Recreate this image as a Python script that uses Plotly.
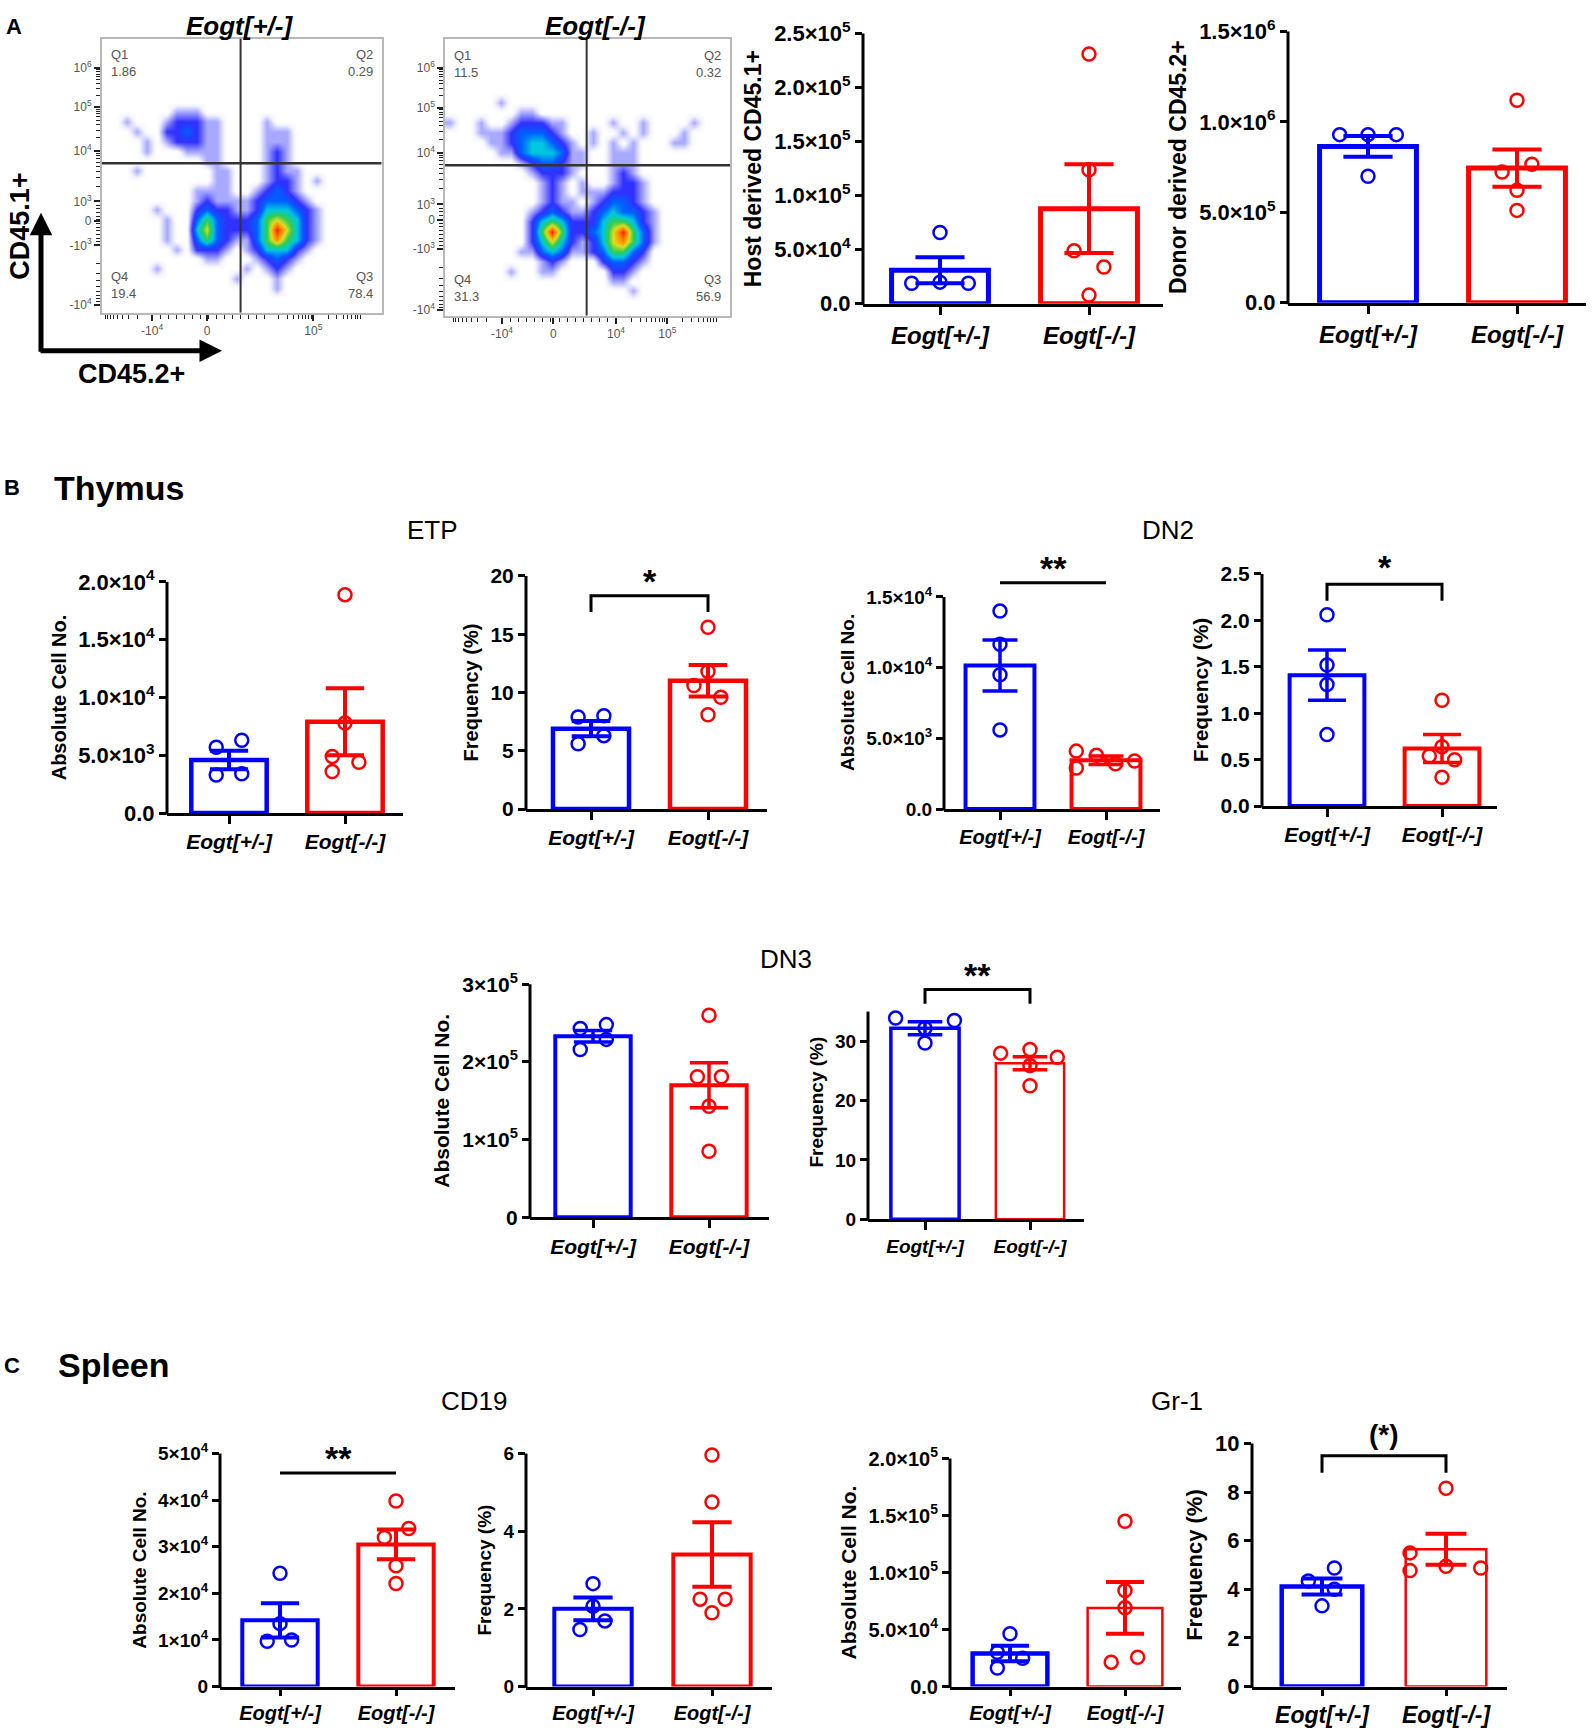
import numpy as np
import plotly.graph_objects as go

W, H = 1594, 1732
BLUE, RED = "#0000ff", "#ff0000"
FONT = "Liberation Sans, Arial, Helvetica, sans-serif"

groups = ["Eogt[+/-]", "Eogt[-/-]"]

# ---------------- A: flow plots (coarse density, rows top -> bottom, 0-8)
flow_het_density = [
    "0000000000000000000000000000",
    "0000000000000000000000000000",
    "0000000000000000000000000000",
    "0000000000000000000000000000",
    "0000000000000000000000000000",
    "0000000000000000000000000000",
    "0000000000000000000000000000",
    "0000000111000000000000000000",
    "0010001222110000100000000000",
    "0001002232110000111000000000",
    "0000101222110000111000000000",
    "0000100011110000121000000000",
    "0000000000110000121000000000",
    "0001000000011000121100000000",
    "0000000000011000122101000000",
    "0000000001111001232100000000",
    "0000000001211112333210000000",
    "0000010002322112444321000000",
    "0000001003532223565421000000",
    "0000001004632223586421000000",
    "0000001003532113575421000000",
    "0000000102221012444210000000",
    "0000000000110001232100000000",
    "0000010000000010121000000000",
    "0000000000000100010000000000",
    "0000000000000000010000000000",
    "0000000000000000000000000000",
    "0000000000000000000000000000",
]
flow_ko_density = [
    "0000000000000000000000000000",
    "0000000000000000000000000000",
    "0000000000000000000000000000",
    "0000000000000000000000000000",
    "0000000000000000000000000000",
    "0000000000000000000000000000",
    "0000010000000000000000000000",
    "0000000110000000000000000000",
    "1001001222110000100100001000",
    "0001112333210010010100010000",
    "0000112344321010101000110000",
    "0000011344431100111000000000",
    "0000000123321100111000000000",
    "0000000012221000121000000000",
    "0000000001210100122100000000",
    "0000000001210111222100000000",
    "0000000001211012332100000000",
    "0000000012321123433210000000",
    "0000000024542224554210000000",
    "0000000025852234685310000000",
    "0000000024642124675310000000",
    "0000000113431123553200000000",
    "0000000001210002332100000000",
    "0000001001100000221000000000",
    "0000000000000000110000000000",
    "0000000000000000001000000000",
    "0000000000000000000000000000",
    "0000000000000000000000000000",
]
quad_names = ["Q1", "Q2", "Q3", "Q4"]
quad_het = ["1.86", "0.29", "78.4", "19.4"]
quad_ko = ["11.5", "0.32", "56.9", "31.3"]
flow_yticktext = ["-10<sup>4</sup>", "-10<sup>3</sup>", "0", "10<sup>3</sup>",
                  "10<sup>4</sup>", "10<sup>5</sup>", "10<sup>6</sup>"]
flow_xticktext_het = ["-10<sup>4</sup>", "0", "", "10<sup>5</sup>"]
flow_xticktext_ko = ["-10<sup>4</sup>", "0", "10<sup>4</sup>", "10<sup>5</sup>"]

# ---------------- bar panels: individual mice, mean, SEM
host_het = [6.6e4, 1.9e4, 2.0e4, 1.9e4]
host_ko = [2.31e5, 1.24e5, 4.9e4, 3.4e4, 8.0e3]
host_mean = [3.1e4, 8.8e4]
host_sem = [1.2e4, 4.1e4]

donor_het = [9.3e5, 9.3e5, 9.3e5, 7.0e5]
donor_ko = [1.12e6, 7.66e5, 7.23e5, 6.22e5, 5.11e5]
donor_mean = [8.65e5, 7.45e5]
donor_sem = [5.7e4, 1.03e5]

etp_abs_het = [5.7e3, 6.3e3, 3.3e3, 3.4e3]
etp_abs_ko = [1.89e4, 7.8e3, 4.9e3, 4.4e3, 3.6e3]
etp_abs_mean = [4.6e3, 7.9e3]
etp_abs_sem = [0.8e3, 2.9e3]

etp_freq_het = [7.9, 8.0, 5.6, 6.3]
etp_freq_ko = [15.6, 11.8, 10.6, 9.6, 8.1]
etp_freq_mean = [6.9, 11.0]
etp_freq_sem = [0.65, 1.35]

dn2_abs_het = [1.40e4, 1.165e4, 9.5e3, 5.6e3]
dn2_abs_ko = [4.1e3, 3.8e3, 3.2e3, 3.4e3, 2.9e3]
dn2_abs_mean = [1.015e4, 3.45e3]
dn2_abs_sem = [1.8e3, 0.3e3]

dn2_freq_het = [2.06, 1.52, 1.31, 0.77]
dn2_freq_ko = [1.14, 0.64, 0.54, 0.50, 0.31]
dn2_freq_mean = [1.41, 0.62]
dn2_freq_sem = [0.27, 0.15]

dn3_abs_het = [2.43e5, 2.48e5, 2.16e5, 2.29e5]
dn3_abs_ko = [2.60e5, 1.81e5, 1.81e5, 1.43e5, 8.5e4]
dn3_abs_mean = [2.33e5, 1.70e5]
dn3_abs_sem = [7.5e3, 2.9e4]

dn3_freq_het = [33.9, 33.5, 32.2, 29.7]
dn3_freq_ko = [28.0, 28.6, 27.3, 25.9, 22.5]
dn3_freq_mean = [32.2, 26.3]
dn3_freq_sem = [1.1, 1.1]

cd19_abs_het = [2.43e4, 1.35e4, 9.7e3, 1.0e4]
cd19_abs_ko = [3.98e4, 3.39e4, 3.2e4, 2.59e4, 2.21e4]
cd19_abs_mean = [1.42e4, 3.05e4]
cd19_abs_sem = [3.7e3, 3.2e3]

cd19_freq_het = [2.65, 2.07, 1.69, 1.47]
cd19_freq_ko = [5.96, 4.75, 2.25, 2.25, 1.9]
cd19_freq_mean = [2.0, 3.4]
cd19_freq_sem = [0.29, 0.83]

gr1_abs_het = [4.63e4, 3.0e4, 2.49e4, 1.63e4]
gr1_abs_ko = [1.45e5, 8.43e4, 6.91e4, 2.57e4, 2.14e4]
gr1_abs_mean = [2.9e4, 6.9e4]
gr1_abs_sem = [6.8e3, 2.27e4]

gr1_freq_het = [4.88, 4.34, 4.0, 3.32]
gr1_freq_ko = [8.16, 5.5, 4.77, 4.95, 4.88]
gr1_freq_mean = [4.12, 5.65]
gr1_freq_sem = [0.33, 0.64]

# y tick labels
ticks_host = ([0, 5e4, 1e5, 1.5e5, 2e5, 2.5e5],
              ["0.0", "5.0×10<sup>4</sup>", "1.0×10<sup>5</sup>", "1.5×10<sup>5</sup>",
               "2.0×10<sup>5</sup>", "2.5×10<sup>5</sup>"])
ticks_donor = ([0, 5e5, 1e6, 1.5e6],
               ["0.0", "5.0×10<sup>5</sup>", "1.0×10<sup>6</sup>", "1.5×10<sup>6</sup>"])
ticks_etp_abs = ([0, 5e3, 1e4, 1.5e4, 2e4],
                 ["0.0", "5.0×10<sup>3</sup>", "1.0×10<sup>4</sup>", "1.5×10<sup>4</sup>", "2.0×10<sup>4</sup>"])
ticks_etp_freq = ([0, 5, 10, 15, 20], ["0", "5", "10", "15", "20"])
ticks_dn2_abs = ([0, 5e3, 1e4, 1.5e4],
                 ["0.0", "5.0×10<sup>3</sup>", "1.0×10<sup>4</sup>", "1.5×10<sup>4</sup>"])
ticks_dn2_freq = ([0, 0.5, 1, 1.5, 2, 2.5], ["0.0", "0.5", "1.0", "1.5", "2.0", "2.5"])
ticks_dn3_abs = ([0, 1e5, 2e5, 3e5], ["0", "1×10<sup>5</sup>", "2×10<sup>5</sup>", "3×10<sup>5</sup>"])
ticks_dn3_freq = ([0, 10, 20, 30], ["0", "10", "20", "30"])
ticks_cd19_abs = ([0, 1e4, 2e4, 3e4, 4e4, 5e4],
                  ["0", "1×10<sup>4</sup>", "2×10<sup>4</sup>", "3×10<sup>4</sup>",
                   "4×10<sup>4</sup>", "5×10<sup>4</sup>"])
ticks_cd19_freq = ([0, 2, 4, 6], ["0", "2", "4", "6"])
ticks_gr1_abs = ([0, 5e4, 1e5, 1.5e5, 2e5],
                 ["0.0", "5.0×10<sup>4</sup>", "1.0×10<sup>5</sup>", "1.5×10<sup>5</sup>", "2.0×10<sup>5</sup>"])
ticks_gr1_freq = ([0, 2, 4, 6, 8, 10], ["0", "2", "4", "6", "8", "10"])

# horizontal scatter of the dots around each bar (category units)
dx_host = ([0, -0.19, 0, 0.19], [0, 0, -0.1, 0.1, 0])
dx_donor = ([-0.19, 0, 0.19, 0], [0, 0.1, -0.1, 0, 0])
dx_etp_abs = ([-0.11, 0.11, -0.11, 0.11], [0, 0, -0.11, 0.12, -0.11])
dx_etp_freq = ([-0.11, 0.11, -0.11, 0.11], [0, 0, -0.12, 0.11, 0])
dx_dn2_abs = ([0, 0, 0, 0], [-0.28, -0.09, 0.09, 0.27, -0.28])
dx_dn2_freq = ([0, 0, 0, 0], [0, 0, -0.11, 0.11, 0])
dx_dn3_abs = ([-0.11, 0.115, -0.11, 0.115], [0, -0.1, 0.107, 0, 0])
dx_dn3_freq = ([-0.28, 0.28, 0, 0], [-0.28, 0, 0.26, 0, 0])
dx_cd19_abs = ([0, 0, -0.11, 0.1], [0, 0.11, -0.1, 0, 0])
dx_cd19_freq = ([0, 0, 0.1, -0.11], [0, 0, -0.1, 0.11, 0])
dx_gr1_abs = ([0, -0.11, 0.11, -0.11], [0, 0, 0, 0.11, -0.12])
dx_gr1_freq = ([0.1, -0.11, 0.1, 0], [0, -0.29, -0.29, 0, 0.28])


def Y(v, lo=0, hi=H):
    # vertical page position; the photographed page comes out slightly shifted/squeezed
    return min(max(1.0177 * v - 15.7, lo), hi)


# box = (y-axis x, x-axis end, cat0 x, cat1 x, zero y, y of "top" value) in pixels
panels = [
    dict(d=(host_het, host_ko, host_mean, host_sem, dx_host), t=ticks_host, title="Host derived CD45.1+",
         box=(863, 1163, 940, 1089, 303, 33), top=2.5e5, rmax=2.5e5, fs=(22, 24, 23), lw=(5, 5), et=4),
    dict(d=(donor_het, donor_ko, donor_mean, donor_sem, dx_donor), t=ticks_donor, title="Donor derived CD45.2+",
         box=(1288, 1586, 1368, 1517, 302, 31), top=1.5e6, rmax=1.5e6, fs=(22, 24, 23), lw=(5, 5), et=4),
    dict(d=(etp_abs_het, etp_abs_ko, etp_abs_mean, etp_abs_sem, dx_etp_abs), t=ticks_etp_abs,
         title="Absolute Cell No.", box=(167, 403, 229, 345, 812, 581), top=2e4, rmax=2e4,
         fs=(22, 21, 20), lw=(4.5, 4.5), et=4),
    dict(d=(etp_freq_het, etp_freq_ko, etp_freq_mean, etp_freq_sem, dx_etp_freq), t=ticks_etp_freq,
         title="Frequency (%)", box=(526, 767, 591, 708, 808, 575), top=20, rmax=20,
         fs=(21, 21, 20), lw=(4.5, 4.5), et=4, sig=("bracket", 18.3, 16.9, "*", 34, -6)),
    dict(d=(dn2_abs_het, dn2_abs_ko, dn2_abs_mean, dn2_abs_sem, dx_dn2_abs), t=ticks_dn2_abs,
         title="Absolute Cell No.", box=(944, 1160, 1000, 1106, 808, 596), top=1.5e4, rmax=1.65e4,
         fs=(19, 20, 19), lw=(4, 4), et=3.5, sig=("line", 1.6e4, None, "**", 34, -6)),
    dict(d=(dn2_freq_het, dn2_freq_ko, dn2_freq_mean, dn2_freq_sem, dx_dn2_freq), t=ticks_dn2_freq,
         title="Frequency (%)", box=(1262, 1497, 1327, 1442, 805, 573), top=2.5, rmax=2.5,
         fs=(21, 21, 21), lw=(4, 4), et=3.5, sig=("bracket", 2.39, 2.21, "*", 34, -4)),
    dict(d=(dn3_abs_het, dn3_abs_ko, dn3_abs_mean, dn3_abs_sem, dx_dn3_abs), t=ticks_dn3_abs,
         title="Absolute Cell No.", box=(530, 769, 593, 709, 1216, 983), top=3e5, rmax=3e5,
         fs=(21, 21, 21), lw=(4, 4), et=3.5),
    dict(d=(dn3_freq_het, dn3_freq_ko, dn3_freq_mean, dn3_freq_sem, dx_dn3_freq), t=ticks_dn3_freq,
         title="Frequency (%)", box=(868, 1084, 925, 1030, 1218, 1040), top=30, rmax=39.5, axis_top=35,
         fs=(19, 19, 19), lw=(3.5, 2.5), et=3.5, sig=("bracket", 38.7, 36.3, "**", 34, -6)),
    dict(d=(cd19_abs_het, cd19_abs_ko, cd19_abs_mean, cd19_abs_sem, dx_cd19_abs), t=ticks_cd19_abs,
         title="Absolute Cell No.", box=(220, 455, 280, 396, 1692, 1452), top=5e4, rmax=5e4,
         fs=(19, 20, 19), lw=(4, 4), et=4, sig=("line", 4.58e4, None, "**", 34, -6)),
    dict(d=(cd19_freq_het, cd19_freq_ko, cd19_freq_mean, cd19_freq_sem, dx_cd19_freq), t=ticks_cd19_freq,
         title="Frequency (%)", box=(526, 772, 593, 712, 1692, 1452), top=6, rmax=6,
         fs=(19, 20, 19), lw=(4, 4), et=4),
    dict(d=(gr1_abs_het, gr1_abs_ko, gr1_abs_mean, gr1_abs_sem, dx_gr1_abs), t=ticks_gr1_abs,
         title="Absolute Cell No.", box=(950, 1181, 1010, 1125, 1690, 1457), top=2e5, rmax=2e5,
         fs=(20, 20, 21), lw=(4.5, 2.5), et=4),
    dict(d=(gr1_freq_het, gr1_freq_ko, gr1_freq_mean, gr1_freq_sem, dx_gr1_freq), t=ticks_gr1_freq,
         title="Frequency (%)", box=(1252, 1507, 1322, 1446, 1686, 1442), top=10, rmax=10,
         fs=(22, 23, 22), lw=(4.5, 2.5), et=4, sig=("bracket", 9.5, 8.8, "(*)", 28, 4)),
]

fig = go.Figure()
layout = {}
shapes, annotations = [], []


def ax_names(n):
    s = "" if n == 1 else str(n)
    return "x" + s, "y" + s, "xaxis" + s, "yaxis" + s


for n, p in enumerate(panels, start=1):
    xa, ya, xkey, ykey = ax_names(n)
    het, ko, mean, sem, dx = p["d"]
    xl, xr, c0, c1, y0, ytop = p["box"]
    y0, ytop = Y(y0, hi=1699), Y(ytop)
    s = c1 - c0
    per = (y0 - ytop) / p["top"]
    fs_tick, fs_cat, fs_title = p["fs"]
    low = y0 > 1600

    layout[xkey] = dict(domain=[xl / W, xr / W], range=[(xl - c0) / s, (xr - c0) / s], anchor=ya,
                        tickvals=[0, 1], ticktext=groups, ticks="outside", ticklen=6 if low else 8,
                        tickwidth=2.5, tickcolor="black", showline=True, linewidth=3, linecolor="black",
                        showgrid=False, zeroline=False, fixedrange=True,
                        tickfont=dict(family=FONT, size=fs_cat, color="black", weight="bold", style="italic"))
    layout[ykey] = dict(domain=[1 - y0 / H, 1 - (y0 - p["rmax"] * per) / H], range=[0, p["rmax"]],
                        anchor=xa, tickvals=p["t"][0], ticktext=p["t"][1], ticks="outside", ticklen=7,
                        tickwidth=2.5, tickcolor="black", showline=False, showgrid=False, zeroline=False,
                        fixedrange=True,
                        tickfont=dict(family=FONT, size=fs_tick, color="black", weight="bold"),
                        title=dict(text=p["title"], standoff=6,
                                   font=dict(family=FONT, size=fs_title, color="black", weight="bold")))
    axis_top_px = y0 - p.get("axis_top", p["top"]) * per
    shapes.append(dict(type="line", xref="paper", yref="paper", x0=xl / W, x1=xl / W,
                       y0=1 - (y0 + 1.5) / H, y1=1 - axis_top_px / H, line=dict(color="black", width=3)))

    for i, color in enumerate((BLUE, RED)):
        fig.add_trace(go.Bar(x=[i], y=[mean[i]], width=0.65, xaxis=xa, yaxis=ya,
                             marker=dict(color="rgba(0,0,0,0)", line=dict(color=color, width=p["lw"][i])),
                             error_y=dict(type="data", array=[sem[i]], color=color,
                                          thickness=p["et"], width=0.165 * s)))
    for i, (vals, color) in enumerate(zip((het, ko), (BLUE, RED))):
        fig.add_trace(go.Scatter(x=[i + d for d in dx[i]], y=vals, mode="markers", cliponaxis=False,
                                 xaxis=xa, yaxis=ya,
                                 marker=dict(symbol="circle-open", size=13, color=color,
                                             line=dict(width=2.5, color=color))))
    if "sig" in p:
        kind, yb, ydrop, text, fsz, shift = p["sig"]
        if kind == "bracket":
            xs, ys = [0, 0, 1, 1], [ydrop, yb, yb, ydrop]
        else:
            xs, ys = [0, 1], [yb, yb]
        fig.add_trace(go.Scatter(x=xs, y=ys, mode="lines", xaxis=xa, yaxis=ya,
                                 line=dict(color="black", width=3)))
        annotations.append(dict(x=0.5, y=yb, xref=xa, yref=ya, text=text, showarrow=False,
                                xanchor="center", yanchor="bottom", yshift=shift,
                                font=dict(family=FONT, size=fsz, color="black", weight="bold")))

# ---------------- flow cytometry subplots
flow = [
    dict(grid=flow_het_density, quad=quad_het, box=(101.7, 381.7, 31.7, 312), gates=(0.496, 0.545),
         ypos=[0.03, 0.246, 0.335, 0.406, 0.59, 0.75, 0.893], xpos=[0.18, 0.376, 0.58, 0.756],
         xtext=flow_xticktext_het, title=groups[0], tx=240),
    dict(grid=flow_ko_density, quad=quad_ko, box=(445, 730, 37.3, 315), gates=(0.497, 0.543),
         ypos=[0.02, 0.24, 0.345, 0.402, 0.588, 0.75, 0.894], xpos=[0.2, 0.38, 0.6, 0.78],
         xtext=flow_xticktext_ko, title=groups[1], tx=595),
]

jet = [[0, "#ffffff"], [0.04, "#f2f2ff"], [0.125, "#a8a8ff"], [0.25, "#3030ff"], [0.375, "#0060ff"],
       [0.5, "#00c8e0"], [0.625, "#30cc50"], [0.75, "#dede20"], [0.875, "#ff8800"], [1, "#ff1a00"]]


def log_minor(pos):
    out = []
    for a, b in zip(pos[:-1], pos[1:]):
        out += [a + (b - a) * np.log10(m) for m in range(2, 10)]
    return out


for k, f in enumerate(flow):
    n = len(panels) + 1 + k
    xa, ya, xkey, ykey = ax_names(n)
    ncol = len(f["grid"][0])
    nrow = len(f["grid"])
    z = [[int(c) for c in row.ljust(ncol, "0")[:ncol]] for row in f["grid"][::-1]]
    xc = [(c + 0.5) / ncol for c in range(ncol)]
    yc = [(r + 0.5) / nrow for r in range(nrow)]
    fig.add_trace(go.Heatmap(z=z, x=xc, y=yc, xaxis=xa, yaxis=ya, zmin=0, zmax=8, colorscale=jet,
                             zsmooth="best", showscale=False, hoverinfo="skip"))
    bl, br, bt, bb = f["box"]
    bt, bb = Y(bt, lo=23), Y(bb)
    yp = f["ypos"]
    ymin = log_minor([yp[3], yp[4], yp[5], yp[6]]) + log_minor([yp[1], yp[0]]) + \
        list(np.linspace(yp[1], yp[3], 13))
    xp = f["xpos"]
    step = xp[3] - xp[2]
    xmin = log_minor([xp[2], xp[3], xp[3] + step]) + list(np.linspace(xp[0], xp[2], 15)) + \
        [v for v in log_minor([xp[0], xp[0] - step]) if v > 0]
    ymin = [v for v in ymin if 0 < v < 1]
    xmin = [v for v in xmin if 0 < v < 1]
    common = dict(range=[0, 1], showline=True, mirror=True, linecolor="#b8b8b8", linewidth=1.5,
                  ticks="outside", ticklen=6, tickwidth=1.5, tickcolor="#222", showgrid=False,
                  zeroline=False, fixedrange=True, tickfont=dict(family=FONT, size=12, color="#555"))
    layout[xkey] = dict(common, domain=[bl / W, br / W], anchor=ya, tickvals=xp, ticktext=f["xtext"],
                        minor=dict(tickmode="array", tickvals=xmin, ticks="outside", ticklen=4,
                                   tickwidth=1, tickcolor="#222"))
    layout[ykey] = dict(common, domain=[1 - bb / H, 1 - bt / H], anchor=xa, tickvals=yp,
                        ticktext=flow_yticktext,
                        minor=dict(tickmode="array", tickvals=ymin, ticks="outside", ticklen=4,
                                   tickwidth=1, tickcolor="#222"))
    gx, gy = f["gates"]
    shapes.append(dict(type="line", xref=xa, yref=ya, x0=gx, x1=gx, y0=0, y1=1,
                       line=dict(color="#333", width=2)))
    shapes.append(dict(type="line", xref=xa, yref=ya, x0=0, x1=1, y0=gy, y1=gy,
                       line=dict(color="#333", width=2.5)))
    qpos = [(0.025, 0.975, "left", "top"), (0.975, 0.975, "right", "top"),
            (0.975, 0.035, "right", "bottom"), (0.025, 0.035, "left", "bottom")]
    for name, val, (qx, qy, xan, yan) in zip(quad_names, f["quad"], qpos):
        annotations.append(dict(x=qx, y=qy, xref=xa, yref=ya, text=f"{name}<br>{val}", showarrow=False,
                                xanchor=xan, yanchor=yan, align=xan,
                                font=dict(family=FONT, size=13, color="#555")))
    annotations.append(dict(x=f["tx"] / W, y=1 - 10 / H, xref="paper", yref="paper", text=f["title"],
                            showarrow=False, xanchor="center", yanchor="middle",
                            font=dict(family=FONT, size=26, color="black", weight="bold", style="italic")))


# ---------------- labels, headings, arrows
def label(x, y, text, size, bold=True, angle=0):
    annotations.append(dict(x=x / W, y=1 - y / H, xref="paper", yref="paper", text=text, showarrow=False,
                            textangle=angle, xanchor="center", yanchor="middle",
                            font=dict(family=FONT, size=size, color="black",
                                      weight="bold" if bold else "normal")))


label(14, 11, "A", 22)
label(12, Y(487), "B", 22)
label(119, Y(487), "Thymus", 34)
label(12, Y(1364), "C", 22)
label(113, Y(1364), "Spleen", 34)
label(432, Y(529), "ETP", 26, bold=False)
label(1168, Y(529), "DN2", 26, bold=False)
label(786, Y(958), "DN3", 26, bold=False)
label(474, Y(1400), "CD19", 26, bold=False)
label(1177, Y(1400), "Gr-1", 26, bold=False)
label(20, Y(226), "CD45.1+", 27, angle=-90)
label(131, Y(373), "CD45.2+", 27)

corner = Y(350)
annotations.append(dict(x=41 / W, y=1 - Y(212) / H, xref="paper", yref="paper", ax=0, ay=corner - Y(212),
                        text="", showarrow=True, arrowhead=2, arrowsize=0.9, arrowwidth=5, arrowcolor="black"))
annotations.append(dict(x=222 / W, y=1 - corner / H, xref="paper", yref="paper", ax=-183, ay=0, text="",
                        showarrow=True, arrowhead=2, arrowsize=0.9, arrowwidth=5, arrowcolor="black"))

fig.update_layout(width=W, height=H, margin=dict(l=0, r=0, t=0, b=0), paper_bgcolor="white",
                  plot_bgcolor="rgba(0,0,0,0)", showlegend=False, barmode="overlay",
                  shapes=shapes, annotations=annotations, **layout)
fig.write_html("out.html", config={"displayModeBar": False},
               post_script="document.body.style.margin='0';")
